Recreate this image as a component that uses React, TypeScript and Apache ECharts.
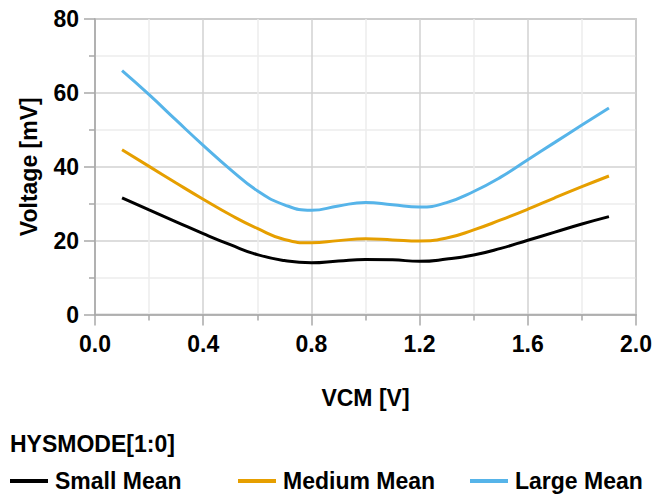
import React, { useEffect, useRef } from "react";
import * as echarts from "echarts";

const vcm = [0.1, 0.2, 0.3, 0.4, 0.5, 0.6, 0.7, 0.8, 0.9, 1.0, 1.1, 1.2, 1.3, 1.4, 1.5, 1.6, 1.7, 1.8, 1.9];
const smallMean = [31.6, 28.3, 25.1, 21.9, 18.9, 16.2, 14.6, 14.0, 14.5, 14.9, 14.8, 14.4, 15.0, 16.1, 17.9, 20.1, 22.3, 24.5, 26.5];
const mediumMean = [44.6, 40.1, 35.6, 31.2, 27.0, 23.3, 20.3, 19.4, 20.0, 20.5, 20.2, 19.9, 20.7, 22.9, 25.6, 28.5, 31.6, 34.6, 37.5];
const largeMean = [66.0, 59.5, 52.6, 45.8, 39.3, 33.5, 29.7, 28.2, 29.4, 30.3, 29.7, 29.1, 30.3, 33.3, 37.2, 41.9, 46.6, 51.3, 55.9];
const seriesNames = ["Small Mean", "Medium Mean", "Large Mean"];
const seriesColors = ["#000000", "#E69F00", "#56B4E9"];

const FONT = "Liberation Sans, Arial, sans-serif";

export default function App() {
  const ref = useRef<HTMLDivElement>(null);
  useEffect(() => {
    if (!ref.current) return;
    const chart = echarts.init(ref.current, undefined, { renderer: "svg" });
    const data = [smallMean, mediumMean, largeMean];
    const legendLefts = [10, 238, 470];
    const axisGrey = "#a8a8a8";
    chart.setOption({
      animation: false,
      textStyle: { fontFamily: FONT },
      title: {
        text: "HYSMODE[1:0]",
        left: 10,
        top: 432,
        padding: 0,
        textStyle: { fontFamily: FONT, fontSize: 23, fontWeight: "bold", color: "#000" },
      },
      legend: seriesNames.map((n, i) => ({
        data: [n],
        left: legendLefts[i],
        top: 469.5,
        padding: 0,
        icon: "rect",
        itemWidth: 38,
        itemHeight: 4,
        textStyle: { fontFamily: FONT, fontSize: 23, fontWeight: "bold", color: "#000", padding: [0, 0, 0, 2] },
      })),
      grid: {
        left: 95,
        right: 31,
        top: 19,
        bottom: 180.5,
        show: true,
        borderColor: axisGrey,
        borderWidth: 1.5,
      },
      xAxis: {
        type: "value",
        min: 0,
        max: 2,
        interval: 0.4,
        name: "VCM [V]",
        nameLocation: "middle",
        nameGap: 72,
        nameTextStyle: { fontFamily: FONT, fontSize: 23, fontWeight: "bold", color: "#000" },
        axisLine: { show: true, lineStyle: { color: axisGrey, width: 1.5 } },
        axisTick: { show: true, length: 11, lineStyle: { color: axisGrey, width: 1.5 } },
        minorTick: { show: true, splitNumber: 2, length: 6, lineStyle: { color: axisGrey, width: 1.5 } },
        splitLine: { show: true, lineStyle: { color: "#d2d2d2", width: 1.5 } },
        minorSplitLine: { show: true, lineStyle: { color: "#ececec", width: 1.5 } },
        axisLabel: {
          margin: 18,
          fontFamily: FONT,
          fontSize: 23,
          fontWeight: "bold",
          color: "#000",
          formatter: (v: number) => v.toFixed(1),
        },
      },
      yAxis: {
        type: "value",
        min: 0,
        max: 80,
        interval: 20,
        name: "Voltage [mV]",
        nameLocation: "middle",
        nameGap: 55,
        nameTextStyle: { fontFamily: FONT, fontSize: 23, fontWeight: "bold", color: "#000" },
        axisLine: { show: true, lineStyle: { color: axisGrey, width: 1.5 } },
        axisTick: { show: true, length: 11, lineStyle: { color: axisGrey, width: 1.5 } },
        minorTick: { show: true, splitNumber: 2, length: 6, lineStyle: { color: axisGrey, width: 1.5 } },
        splitLine: { show: true, lineStyle: { color: "#d2d2d2", width: 1.5 } },
        minorSplitLine: { show: true, lineStyle: { color: "#ececec", width: 1.5 } },
        axisLabel: {
          margin: 16,
          fontFamily: FONT,
          fontSize: 23,
          fontWeight: "bold",
          color: "#000",
        },
      },
      series: seriesNames.map((n, i) => ({
        name: n,
        type: "line",
        smooth: 0.5,
        symbol: "none",
        color: seriesColors[i],
        lineStyle: { color: seriesColors[i], width: 3 },
        data: vcm.map((x, j) => [x, data[i][j]]),
      })),
    });
    return () => chart.dispose();
  }, []);
  return <div ref={ref} style={{ width: 667, height: 495, position: "absolute", left: 0, top: 0 }} />;
}
